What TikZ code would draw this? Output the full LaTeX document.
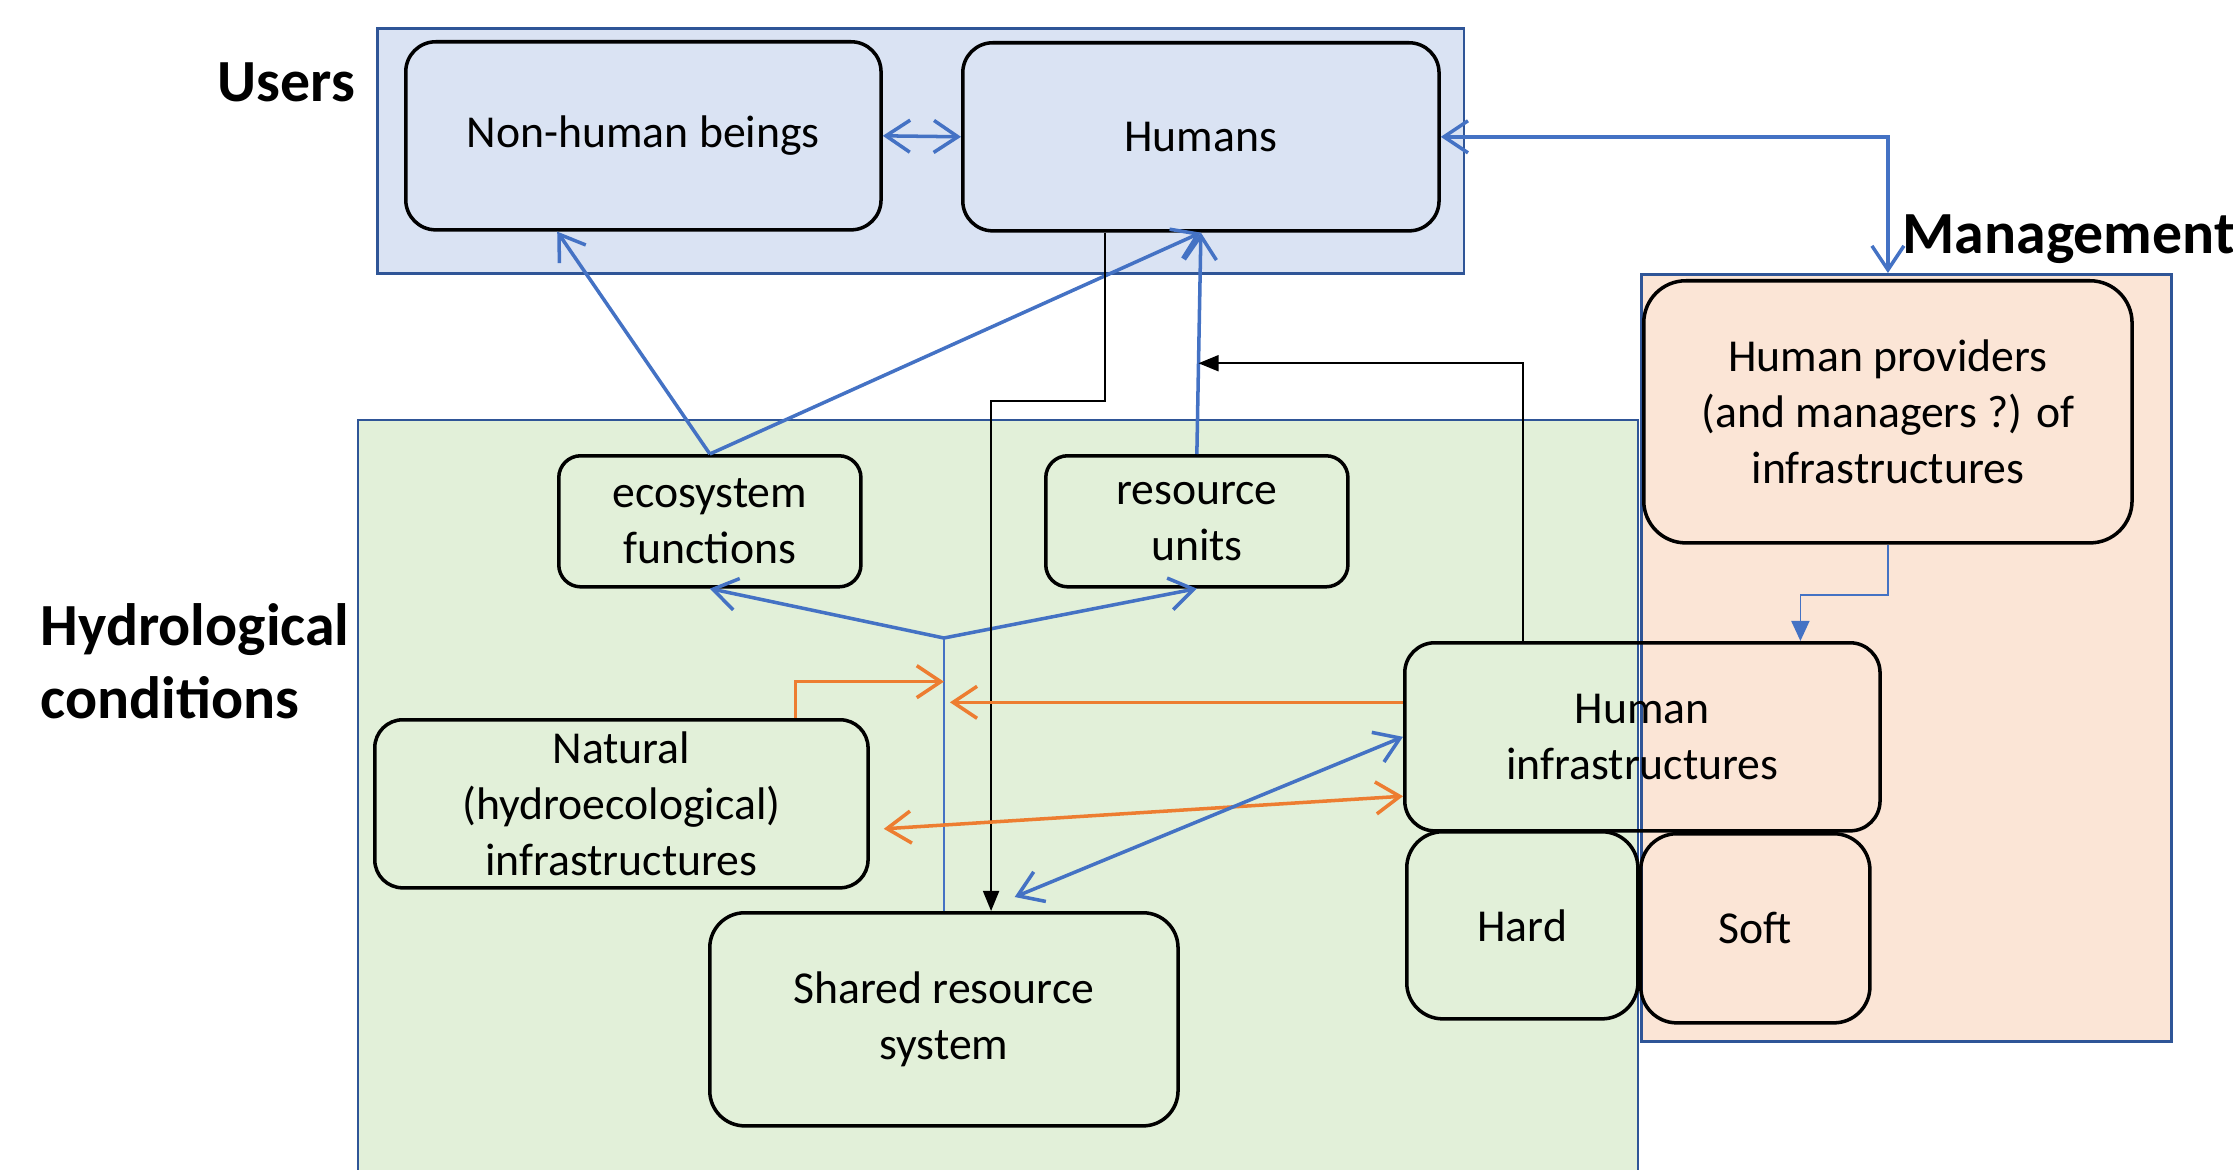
\documentclass[tikz,border=0pt]{standalone}
\usepackage{fontspec}
\setmainfont{Carlito}
\usetikzlibrary{arrows.meta,calc}
\definecolor{usersblue}{HTML}{DAE3F3}
\definecolor{hydrogreen}{HTML}{E2F0D9}
\definecolor{managepeach}{HTML}{FBE5D6}
\definecolor{zoneedge}{HTML}{2F5597}
\definecolor{linkblue}{HTML}{4472C4}
\definecolor{linkorange}{HTML}{ED7D31}
\begin{document}
\begin{tikzpicture}[x=0.01cm,y=-0.01cm,>={Straight Barb[length=2.4mm,width=3.2mm]},
  zonestyle/.style={draw=zoneedge,line width=0.8pt,anchor=north west,inner sep=0pt},
  roundbox/.style={draw,line width=1pt,rounded corners=0.3cm,anchor=north west,align=center,inner sep=0pt,font=\fontsize{13}{16}\selectfont},
  headstyle/.style={font=\fontsize{17}{20.7}\selectfont\bfseries,inner sep=0pt},
  bluelink/.style={draw=linkblue,line width=1pt},
  thinblue/.style={draw=linkblue,line width=0.5pt},
  orangelink/.style={draw=linkorange,line width=1pt},
  blacklink/.style={line width=0.5pt,-{Triangle[length=2mm,width=1.6mm]}}]
  \useasboundingbox (0,0) rectangle (2233,1170);

  % zones
  \node[zonestyle,fill=usersblue,minimum width=10.86cm,minimum height=2.45cm] (users) at (376,27) {};
  \node[zonestyle,fill=hydrogreen,line width=0.6pt,minimum width=12.79cm,minimum height=8cm] (hydro) at (357,419) {};
  \node[zonestyle,fill=managepeach,minimum width=5.3cm,minimum height=7.67cm] (manage) at (1640,273) {};

  \node[headstyle,anchor=base east] (userslbl) at (356,102) {Users};
  \node[headstyle,anchor=base west] (managelbl) at (1902,254) {Management};
  \node[headstyle,anchor=west,align=left] (hydrolbl) at (40,661) {Hydrological\\conditions};

  % boxes
  \node[roundbox,minimum width=4.75cm,minimum height=1.88cm] (nhb) at (404,40) {Non-human beings};
  \node[roundbox,minimum width=4.76cm,minimum height=1.88cm] (humans) at (961,41) {Humans};
  \node[roundbox,rounded corners=0.42cm,minimum width=4.88cm,minimum height=2.62cm] (provider) at (1642,279) {Human providers\\(and managers ?) of\\infrastructures};
  \node[roundbox,rounded corners=0.22cm,minimum width=3.02cm,minimum height=1.31cm] (ecof) at (557,454) {ecosystem\\functions};
  \node[roundbox,rounded corners=0.22cm,minimum width=3.02cm,minimum height=1.31cm] (resu) at (1044,454) {resource\\units};
  \node[roundbox,rounded corners=0.28cm,minimum width=4.93cm,minimum height=1.68cm] (natinf) at (373,718) {Natural\\(hydroecological)\\infrastructures};
  \node[roundbox,rounded corners=0.35cm,minimum width=4.68cm,minimum height=2.13cm] (shared) at (708,911) {Shared resource\\system};
  \node[roundbox,minimum width=4.75cm,minimum height=1.88cm] (huminf) at (1403,641) {Human\\infrastructures};
  \node[roundbox,rounded corners=0.36cm,minimum width=2.31cm,minimum height=1.87cm] (hard) at (1405,830) {Hard};
  \node[roundbox,rounded corners=0.36cm,minimum width=2.29cm,minimum height=1.89cm] (soft) at (1639,832) {Soft};

  % links
  \coordinate (junc) at ($(shared.north)+(0,-273)$);
  \draw[bluelink,<->] (nhb.east) -- (humans.west);
  \draw[bluelink,<->] (humans.east) -| (provider.north |- manage.north);
  \draw[bluelink,->] (ecof.north) -- ($(nhb.south west)!0.32!(nhb.south east)$);
  \draw[bluelink,->] (ecof.north) -- (humans.south);
  \draw[bluelink,->] (resu.north) -- (humans.south);
  \draw[thinblue] (shared.north) -- (junc);
  \draw[bluelink,->] (junc) -- (ecof.south);
  \draw[bluelink,->] (junc) -- (resu.south);
  \draw[blacklink] ($(humans.south west)!0.3!(humans.south east)$) -- ++(0,168) -| ($(shared.north west)!0.6!(shared.north east)$);
  \draw[blacklink] ($(huminf.north west)!0.25!(huminf.north east)$) |- ($(resu.north)!0.41!(humans.south)$);
  \draw[orangelink,->] ($(natinf.north west)!0.85!(natinf.north east)$) |- ($(junc)!0.16!(shared.north)$);
  \draw[orangelink,->] ($(huminf.north west)!0.32!(huminf.south west)$) coordinate (hiout) -- ($(hiout -| junc)+(6,0)$);
  \draw[orangelink,<->] ($(natinf.east)+(14,25)$) -- ($(huminf.north west)!0.81!(huminf.south west)$);
  \draw[bluelink,<->] ($(shared.north west)!0.65!(shared.north east)+(0,-14)$) -- (huminf.west);
  \draw[thinblue,-{Triangle[length=2mm,width=1.8mm]}] (provider.south) -- ++(0,50) -| ($(huminf.north west)!0.83!(huminf.north east)$);
\end{tikzpicture}
\end{document}
